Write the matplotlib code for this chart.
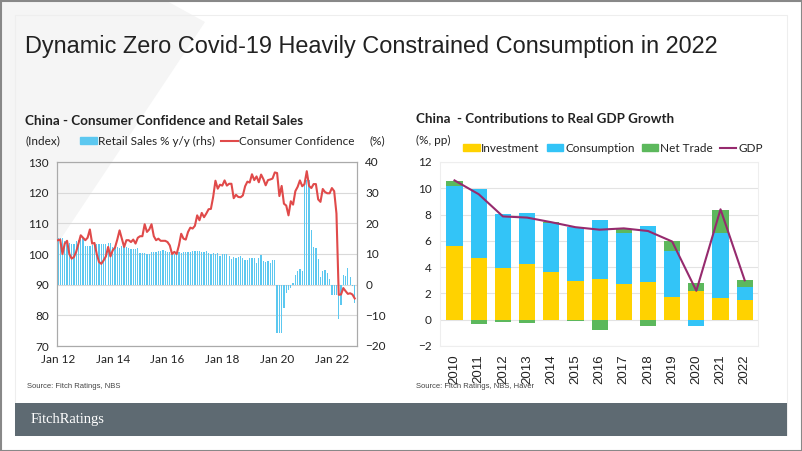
import numpy as np
import matplotlib
matplotlib.use("Agg")
import matplotlib.pyplot as plt
from matplotlib.patches import Rectangle, Polygon, Patch
from matplotlib.lines import Line2D

# ---- left chart data: monthly, Jan 2012 .. Nov 2022 ----
confidence = [
    104.5, 104.7, 100.0, 103.4, 104.3, 100.0, 98.5, 99.0, 100.7, 103.4, 106.1, 105.3,   # 2012
    104.5, 105.3, 108.0, 103.4, 103.6, 100.0, 97.4, 96.8, 97.9, 99.2, 102.3, 99.2,      # 2013
    101.2, 102.1, 104.7, 107.7, 105.0, 102.3, 104.5, 104.5, 103.9, 104.7, 103.4, 105.3,  # 2014
    105.8, 105.8, 109.7, 107.2, 108.0, 109.7, 105.8, 104.5, 105.0, 104.3, 104.3, 104.3,  # 2015
    103.9, 102.8, 100.0, 100.7, 100.0, 102.8, 106.6, 105.0, 104.7, 107.2, 108.6, 108.3,  # 2016
    109.2, 112.6, 111.0, 113.4, 112.0, 113.2, 114.6, 114.7, 118.6, 123.9, 121.3, 122.6,  # 2017
    122.3, 124.0, 122.3, 122.9, 122.9, 118.2, 119.3, 118.6, 118.5, 119.1, 122.1, 123.6,  # 2018
    123.3, 126.0, 124.1, 125.3, 123.4, 125.9, 124.4, 122.4, 124.1, 124.3, 124.6, 126.6,  # 2019
    126.4, 118.9, 122.2, 116.4, 115.8, 112.6, 117.2, 116.1, 120.5, 121.9, 124.0, 122.1,  # 2020
    122.8, 127.0, 122.2, 121.5, 122.8, 122.8, 117.8, 117.0, 121.2, 120.2, 119.8, 119.8,  # 2021
    121.5, 120.5, 113.2, 86.7, 86.8, 88.9, 87.9, 87.0, 87.2, 86.8, 85.5,               # 2022
]
retail = [
    15.2, 15.2, 15.2, 14.1, 13.8, 13.7, 13.1, 13.2, 14.2, 14.5, 14.9, 15.2,
    12.6, 12.6, 12.6, 12.8, 12.9, 13.3, 13.2, 13.4, 13.3, 13.3, 13.7, 13.6,
    12.2, 12.2, 12.2, 11.9, 12.5, 12.4, 12.2, 11.9, 11.6, 11.5, 11.7, 11.9,
    10.2, 10.2, 10.2, 10.0, 10.1, 10.6, 10.5, 10.8, 10.9, 11.0, 11.2, 11.1,
    10.5, 10.5, 10.5, 10.1, 10.0, 10.6, 10.2, 10.6, 10.7, 10.8, 10.8, 10.9,
    10.9, 10.9, 10.9, 10.7, 10.7, 11.0, 10.4, 10.1, 10.3, 10.0, 10.2, 9.4,
    10.1, 10.1, 10.1, 9.4, 8.5, 9.0, 8.8, 9.0, 9.2, 8.6, 8.1, 8.2,
    8.7, 8.7, 8.7, 7.2, 8.6, 9.8, 7.6, 7.5, 7.8, 7.2, 8.0, 8.0,
    -15.8, -15.8, -15.8, -7.5, -2.8, -1.8, -1.1, 0.5, 3.3, 4.3, 5.0, 4.6,
    34.2, 34.2, 34.2, 17.7, 12.4, 12.1, 8.5, 2.5, 4.4, 4.9, 3.9, 1.7,
    -3.5, -3.5, -3.5, -11.1, -6.7, 3.1, 2.7, 5.4, 2.5, -0.5, -5.9,
]
month_ticks = [0, 24, 48, 72, 96, 120]
month_labels = ["Jan 12", "Jan 14", "Jan 16", "Jan 18", "Jan 20", "Jan 22"]

# ---- right chart data: contributions to real GDP growth ----
years = [str(y) for y in range(2010, 2023)]
investment = [5.62, 4.71, 3.97, 4.23, 3.62, 2.94, 3.11, 2.71, 2.89, 1.75, 2.15, 1.67, 1.49]
consumption = [4.56, 5.26, 4.06, 3.90, 3.75, 4.12, 4.46, 3.90, 4.27, 3.49, -0.48, 4.89, 0.97]
net_trade = [0.38, -0.35, -0.15, -0.28, 0.03, -0.08, -0.78, 0.33, -0.46, 0.76, 0.66, 1.82, 0.53]
gdp = [10.6, 9.55, 7.86, 7.77, 7.42, 7.04, 6.85, 6.95, 6.75, 5.95, 2.2, 8.4, 3.0]

BLUE_L = "#5CC8F0"
RED = "#E04A4A"
YELLOW = "#FFD200"
BLUE = "#33C4F7"
GREEN = "#5CB85C"
PURPLE = "#962A6E"
TXT = "#222222"
FS = 8.5

plt.rcParams["font.family"] = ["Lato", "DejaVu Sans"]

fig = plt.figure(figsize=(8.02, 4.51), dpi=100)
W, H = 802.0, 451.0

# background decoration
bg = fig.add_axes([0, 0, 1, 1])
bg.set_xlim(0, W)
bg.set_ylim(H, 0)
bg.axis("off")
bg.add_patch(Polygon([[0, 0], [165, 0], [205, 22], [60, 240], [0, 240]],
                     closed=True, facecolor="#F5F5F5", edgecolor="none"))
bg.add_patch(Rectangle((15, 15), 772, 420, facecolor="none", edgecolor="#EEEEEE", lw=0.8))
bg.add_patch(Rectangle((15, 403), 772, 33, facecolor="#5E6A72", edgecolor="none"))
bg.add_patch(Rectangle((0.5, 0.5), W - 1, H - 1, facecolor="none", edgecolor="#888888", lw=1.5))
bg.text(31, 420, "FitchRatings", color="white", fontsize=10.5, va="center", ha="left",
        family=["Liberation Serif"])

fig.text(25, H - 47, "Dynamic Zero Covid-19 Heavily Constrained Consumption in 2022",
         transform=None, fontsize=16.9, color=TXT, va="center", ha="left",
         family=["Liberation Sans"])

# ---- left chart ----
ax1 = fig.add_axes([57 / W, 1 - 346 / H, 300 / W, 184 / H])
ax2 = ax1.twinx()
x = np.arange(len(confidence))
ax2.bar(x, retail, width=0.55, color=BLUE_L, zorder=2)
ax2.set_ylim(-20, 40)
ax2.set_yticks(range(-20, 41, 10))
ax2.yaxis.grid(True, color="#D9D9D9", lw=0.8, zorder=0)
ax2.set_axisbelow(True)
ax1.plot(x, confidence, color=RED, lw=1.5, zorder=3)
ax1.set_ylim(70, 130)
ax1.set_yticks(range(70, 131, 10))
ax1.set_xlim(-0.4, 131)
ax1.set_xticks(month_ticks)
ax1.set_xticklabels(month_labels)
ax1.set_zorder(ax2.get_zorder() + 1)
ax1.patch.set_visible(False)
for a in (ax1, ax2):
    a.tick_params(length=0, labelsize=FS, colors=TXT, pad=6)
    for s in a.spines.values():
        s.set_color("#AAAAAA")
        s.set_linewidth(0.8)

fig.text(25, H - 121, "China - Consumer Confidence and Retail Sales", transform=None,
         fontsize=9.7, fontweight="bold", color=TXT, va="center")
fig.text(25, H - 141, "(Index)", transform=None, fontsize=FS, color=TXT, va="center")
fig.text(369, H - 141, "(%)", transform=None, fontsize=FS, color=TXT, va="center")
leg1 = fig.legend(
    handles=[Patch(color=BLUE_L, label="Retail Sales % y/y (rhs)"),
             Line2D([], [], color=RED, lw=1.5, label="Consumer Confidence")],
    loc="center left", bbox_to_anchor=(80 / W, 1 - 141 / H), ncol=2, frameon=False,
    fontsize=FS, handlelength=1.4, handleheight=0.5, handletextpad=0.15, columnspacing=0.5,
    borderpad=0, borderaxespad=0)
for t in leg1.get_texts():
    t.set_color(TXT)
fig.text(27, H - 386, "Source: Fitch Ratings, NBS", transform=None, fontsize=5.5,
         color="#444444", va="center", family=["Liberation Sans"])

# ---- right chart ----
ax3 = fig.add_axes([440 / W, 1 - 346 / H, 318 / W, 184 / H])
xr = np.arange(len(years))
inv = np.array(investment)
con = np.array(consumption)
nt = np.array(net_trade)
pos_base = np.zeros(len(years))
neg_base = np.zeros(len(years))
for vals, col in ((inv, YELLOW), (con, BLUE), (nt, GREEN)):
    bottoms = np.where(vals >= 0, pos_base, neg_base)
    ax3.bar(xr, vals, bottom=bottoms, width=0.67, color=col, zorder=2)
    pos_base = pos_base + np.where(vals >= 0, vals, 0)
    neg_base = neg_base + np.where(vals < 0, vals, 0)
ax3.plot(xr, gdp, color=PURPLE, lw=1.5, zorder=3)
ax3.set_ylim(-2, 12)
ax3.set_yticks(range(-2, 13, 2))
ax3.set_xlim(-0.6, len(years) - 0.45)
ax3.set_xticks(xr)
ax3.set_xticklabels(years, rotation=90, family=["Liberation Sans"])
ax3.yaxis.grid(True, color="#E3E3E3", lw=0.8, zorder=0)
ax3.set_axisbelow(True)
ax3.tick_params(length=0, labelsize=FS, colors=TXT, pad=6)
ax3.tick_params(axis="x", labelsize=9.5)
for s in ax3.spines.values():
    s.set_color("#EEEEEE")
    s.set_linewidth(0.8)

fig.text(416, H - 119, "China  - Contributions to Real GDP Growth", transform=None,
         fontsize=9.6, fontweight="bold", color=TXT, va="center")
fig.text(416, H - 140, "(%, pp)", transform=None, fontsize=FS, color=TXT, va="center")
leg2 = fig.legend(
    handles=[Patch(color=YELLOW, label="Investment"),
             Patch(color=BLUE, label="Consumption"),
             Patch(color=GREEN, label="Net Trade"),
             Line2D([], [], color=PURPLE, lw=1.5, label="GDP")],
    loc="center left", bbox_to_anchor=(463 / W, 1 - 148 / H), ncol=4, frameon=False,
    fontsize=FS, handlelength=1.4, handleheight=0.5, handletextpad=0.15, columnspacing=0.6,
    borderpad=0, borderaxespad=0)
for t in leg2.get_texts():
    t.set_color(TXT)
fig.text(416, H - 386, "Source: Fitch Ratings, NBS, Haver", transform=None, fontsize=5.5,
         color="#444444", va="center", family=["Liberation Sans"])

fig.savefig("out.png", dpi=100)
